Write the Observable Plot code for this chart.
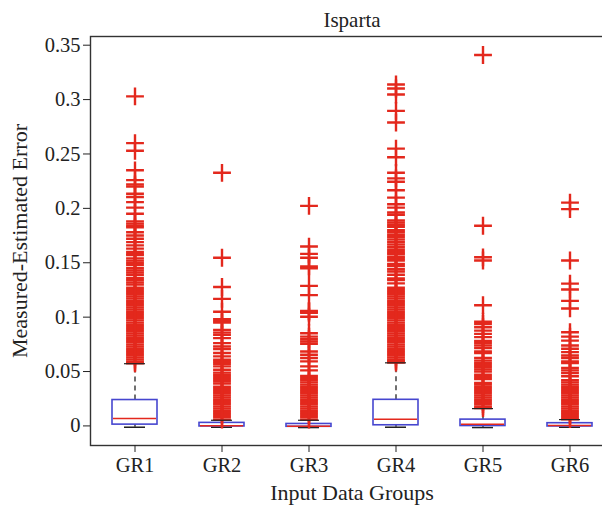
<!DOCTYPE html>
<html>
<head>
<meta charset="utf-8">
<script src="https://cdn.jsdelivr.net/npm/d3@7"></script>
<script src="https://cdn.jsdelivr.net/npm/@observablehq/plot@0.6"></script>
<style>
  html, body { margin: 0; padding: 0; background: #fff; }
  #chart { width: 602px; height: 506px; overflow: hidden; }
</style>
</head>
<body>
<div id="chart"></div>
<script>
// Input data groups
const groups = ["GR1", "GR2", "GR3", "GR4", "GR5", "GR6"];

// Box statistics per group: lower whisker, Q1, median, Q3, upper whisker
const whiskerLow  = [-0.0012, -0.0012, -0.0015, -0.0012, -0.0015, -0.0012];
const q1          = [ 0.0012, -0.0005, -0.0008,  0.0006, -0.0001, -0.0005];
const median      = [ 0.0068,  0.0002, -0.0002,  0.0062,  0.0016,  0.0004];
const q3          = [ 0.0238,  0.0028,  0.0018,  0.0240,  0.0058,  0.0025];
const whiskerHigh = [ 0.0572,  0.0052,  0.0052,  0.0580,  0.0159,  0.0058];

// Outliers (points beyond the upper whisker) per group
const outGR1 = [0.303, 0.260, 0.253, 0.235, 0.226, 0.222, 0.220, 0.2135, 0.2105, 0.2057, 0.2007,
  0.195, 0.188, 0.186, 0.184, 0.1825, 0.178, 0.175, 0.172, 0.169, 0.166, 0.163, 0.160,
  0.158, 0.157, 0.154, 0.152, 0.150, 0.148, 0.145, 0.143, 0.141, 0.139, 0.136, 0.134,
  0.132, 0.130, 0.127, 0.125, 0.123, 0.121, 0.119, 0.117, 0.115, 0.113, 0.111, 0.109,
  0.107, 0.105, 0.103, 0.101, 0.099, 0.097, 0.095, 0.093, 0.091, 0.089, 0.087, 0.085,
  0.083, 0.081, 0.079, 0.077, 0.075, 0.073, 0.071, 0.069, 0.067, 0.065, 0.063, 0.061,
  0.059, 0.0575];
const outGR2 = [0.2327, 0.1546, 0.1277, 0.1168, 0.105, 0.098, 0.0965, 0.095, 0.0882, 0.0858,
  0.0837, 0.0807, 0.0761, 0.073, 0.0706, 0.067, 0.0639, 0.0608, 0.059, 0.0572, 0.0547,
  0.0517, 0.049, 0.047, 0.045, 0.043, 0.041, 0.039, 0.036, 0.034, 0.032, 0.030, 0.028,
  0.026, 0.024, 0.022, 0.020, 0.018, 0.016, 0.014, 0.012, 0.010, 0.008, 0.0058];
const outGR3 = [0.2023, 0.1649, 0.1582, 0.1546, 0.1466, 0.145, 0.1287, 0.1202, 0.1058, 0.105,
  0.104, 0.1004, 0.0852, 0.0821, 0.0797, 0.0776, 0.0755, 0.0684, 0.0654, 0.0624, 0.0593,
  0.0547, 0.0511, 0.046, 0.044, 0.042, 0.040, 0.038, 0.036, 0.034, 0.032, 0.030, 0.028,
  0.026, 0.024, 0.022, 0.020, 0.018, 0.016, 0.014, 0.012, 0.010, 0.008, 0.0058];
const outGR4 = [0.3139, 0.3102, 0.3047, 0.2896, 0.2789, 0.2549, 0.247, 0.2327, 0.2276, 0.2245,
  0.2166, 0.2099, 0.2038, 0.2007, 0.1962, 0.1941, 0.189, 0.187, 0.185, 0.183, 0.180,
  0.178, 0.1758, 0.1734, 0.1713, 0.1688, 0.1667, 0.1642, 0.1619, 0.1597, 0.158, 0.1555,
  0.1537, 0.152, 0.149, 0.147, 0.144, 0.142, 0.139, 0.1355, 0.134, 0.131, 0.127, 0.125,
  0.123, 0.121, 0.119, 0.117, 0.115, 0.113, 0.111, 0.109, 0.107, 0.105, 0.103, 0.101,
  0.099, 0.097, 0.095, 0.093, 0.091, 0.089, 0.087, 0.085, 0.083, 0.081, 0.079, 0.077,
  0.075, 0.073, 0.071, 0.069, 0.067, 0.065, 0.063, 0.061, 0.0595, 0.0583];
const outGR5 = [0.341, 0.184, 0.155, 0.1521, 0.111, 0.0958, 0.0937, 0.0907, 0.0876, 0.0846,
  0.0816, 0.0782, 0.0761, 0.0739, 0.0715, 0.0684, 0.067, 0.0624, 0.060, 0.058, 0.056,
  0.054, 0.052, 0.050, 0.047, 0.045, 0.043, 0.0395, 0.038, 0.036, 0.034, 0.032, 0.030,
  0.028, 0.026, 0.024, 0.022, 0.020, 0.018, 0.0165];
const outGR6 = [0.2053, 0.1993, 0.1521, 0.1308, 0.1254, 0.115, 0.108, 0.0861, 0.0821, 0.0784,
  0.0739, 0.0709, 0.0678, 0.0648, 0.0624, 0.0593, 0.0578, 0.0533, 0.0511, 0.0487, 0.0456,
  0.042, 0.040, 0.038, 0.036, 0.034, 0.032, 0.030, 0.028, 0.026, 0.024, 0.022, 0.020,
  0.018, 0.016, 0.014, 0.012, 0.010, 0.008, 0.0062];
const outliersByGroup = [outGR1, outGR2, outGR3, outGR4, outGR5, outGR6];

// Axis ticks and labels
const yTicks = [0, 0.05, 0.1, 0.15, 0.2, 0.25, 0.3, 0.35];
const yTickLabels = ["0", "0.05", "0.1", "0.15", "0.2", "0.25", "0.3", "0.35"];
const yDomain = [-0.018, 0.358];

const titleText = "Isparta";
const xLabel = "Input Data Groups";
const yLabel = "Measured-Estimated Error";

// Tables built from the arrays above
const boxes = groups.map((g, i) => ({
  group: g, lo: whiskerLow[i], q1: q1[i], med: median[i], q3: q3[i], hi: whiskerHigh[i]
}));
const outliers = groups.flatMap((g, i) => outliersByGroup[i].map(v => ({group: g, value: v})));

const red = "#e3281d";
const blue = "#4646cf";
const ink = "#222";

const chart = Plot.plot({
  width: 602,
  height: 506,
  marginLeft: 90,
  marginRight: -11,
  marginTop: 36,
  marginBottom: 61,
  style: {
    fontFamily: "'Liberation Serif', 'Times New Roman', serif",
    fontSize: "20.5px",
    color: ink,
    background: "#fff",
    overflow: "hidden"
  },
  x: {type: "band", domain: groups, padding: 0},
  y: {domain: yDomain},
  marks: [
    // Whiskers
    Plot.ruleX(boxes, {x: "group", y1: "q3", y2: "hi", stroke: "#111", strokeWidth: 1.2, strokeDasharray: "5,4"}),
    Plot.ruleX(boxes, {x: "group", y1: "lo", y2: "q1", stroke: "#111", strokeWidth: 1.2, strokeDasharray: "5,4"}),
    Plot.tickY(boxes, {x: "group", y: "lo", stroke: "#222", strokeWidth: 1.5, inset: 33}),
    // Boxes and medians
    Plot.barY(boxes, {x: "group", y1: "q1", y2: "q3", fill: "#fff", stroke: blue, strokeWidth: 1.6, insetLeft: 21, insetRight: 21}),
    Plot.tickY(boxes, {x: "group", y: "med", stroke: red, strokeWidth: 1.5, inset: 22}),
    // Outliers
    Plot.dot(outliers, {x: "group", y: "value", symbol: "plus", r: 5.8, stroke: red, strokeWidth: 2.4}),
    // Upper whisker caps
    Plot.tickY(boxes, {x: "group", y: "hi", stroke: "#222", strokeWidth: 1.2, inset: 33}),
    // Frame and axes
    Plot.frame({stroke: "#333", strokeWidth: 1.4}),
    Plot.axisY({
      ticks: yTicks,
      tickFormat: (d, i) => yTickLabels[i],
      tickSize: 7,
      tickPadding: 3,
      label: null
    }),
    Plot.axisY({
      ticks: [],
      label: yLabel,
      labelAnchor: "center",
      labelArrow: "none",
      labelOffset: 79,
      fontSize: 22
    }),
    Plot.axisX({
      tickSize: 7,
      tickPadding: 5,
      label: null
    }),
    Plot.axisX({
      ticks: [],
      label: xLabel,
      labelAnchor: "center",
      labelArrow: "none",
      labelOffset: 54,
      fontSize: 22
    }),
    // Title
    Plot.text([titleText], {frameAnchor: "top", dy: -24, fontSize: 21, fill: ink})
  ]
});
document.getElementById("chart").appendChild(chart);
</script>
</body>
</html>
